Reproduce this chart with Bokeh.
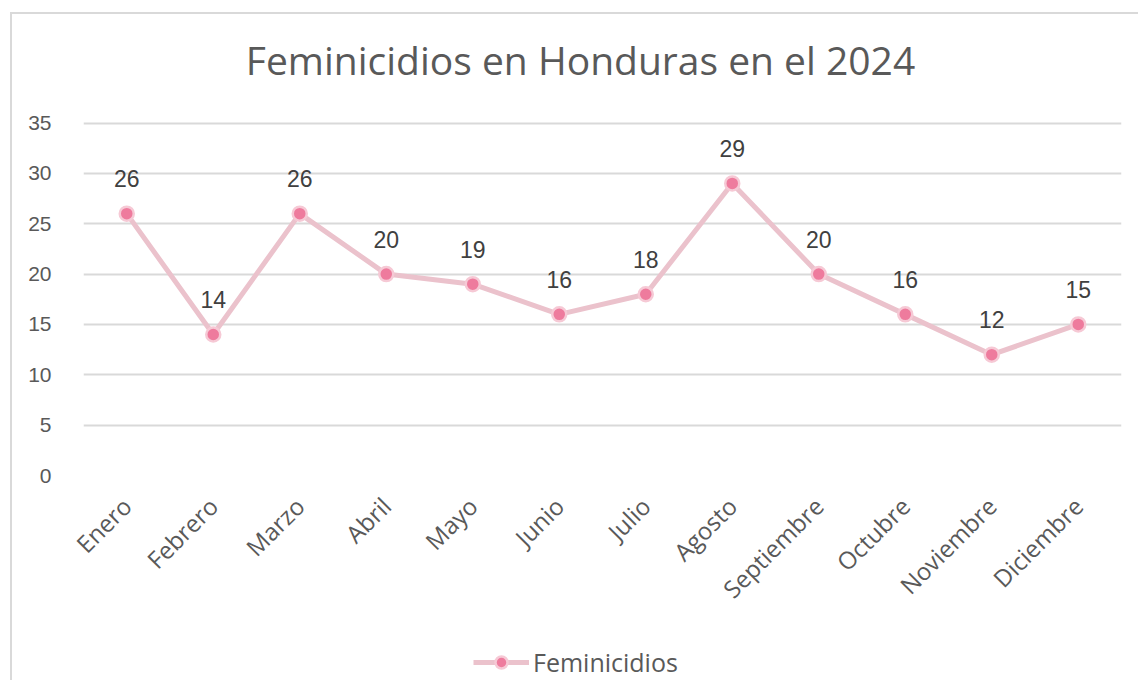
from math import pi
from bokeh.plotting import figure
from bokeh.layouts import column
from bokeh.models import ColumnDataSource, Range1d, Legend, LegendItem, FixedTicker
from bokeh.core.properties import value
from bokeh.embed import file_html
from bokeh.resources import INLINE

months = ["Enero", "Febrero", "Marzo", "Abril", "Mayo", "Junio", "Julio",
          "Agosto", "Septiembre", "Octubre", "Noviembre", "Diciembre"]
feminicidios = [26, 14, 26, 20, 19, 16, 18, 29, 20, 16, 12, 15]
y_ticks = [0, 5, 10, 15, 20, 25, 30, 35]
series_name = "Feminicidios"
title_text = "Feminicidios en Honduras en el 2024"

src = ColumnDataSource(dict(x=months, y=feminicidios,
                            lbl=[str(v) for v in feminicidios]))

W = 1126

# header with the chart title
h = figure(x_range=Range1d(0, 1), y_range=Range1d(0, 1), width=W, height=93,
           output_backend="svg", toolbar_location=None,
           x_axis_type=None, y_axis_type=None,
           min_border_left=0, min_border_right=0, min_border_top=0,
           min_border_bottom=0)
h.grid.grid_line_color = None
h.outline_line_color = None
h.text(x=[0.4788], y=[0.516], text=[title_text], text_align="center",
       text_baseline="middle", text_font=value("Open Sans"),
       text_font_size="39px", text_color="#595959")

p = figure(x_range=months, y_range=Range1d(0, 35.15), width=W, height=533,
           output_backend="svg", toolbar_location=None,
           min_border_left=71, min_border_right=17, min_border_top=14,
           min_border_bottom=165)

p.outline_line_color = None
p.background_fill_color = "white"
p.border_fill_color = "white"

p.xgrid.grid_line_color = None
p.ygrid.grid_line_color = "#d9d9d9"
p.ygrid.grid_line_width = 2
p.yaxis.ticker = FixedTicker(ticks=y_ticks)
p.yaxis.axis_line_color = None
p.yaxis.major_tick_line_color = None
p.yaxis.minor_tick_line_color = None
p.yaxis.major_label_text_font = "Liberation Sans"
p.yaxis.major_label_text_font_size = "21px"
p.yaxis.major_label_text_color = "#595959"
p.yaxis.major_label_standoff = 26

p.xaxis.axis_line_color = None
p.xaxis.major_tick_line_color = None
p.xaxis.major_label_orientation = pi / 4
p.xaxis.major_label_text_font = "Open Sans"
p.xaxis.major_label_text_font_size = "24px"
p.xaxis.major_label_text_color = "#595959"
p.xaxis.major_label_standoff = 20

line_style = dict(line_color="#ebc2cc", line_width=5)
marker_style = dict(size=14, fill_color="#ee7b9d", line_color="#f6c9d5",
                    line_width=2.5)

p.line("x", "y", source=src, **line_style)
p.scatter("x", "y", source=src, **marker_style)
p.text("x", "y", text="lbl", source=src, y_offset=-35,
       text_align="center", text_baseline="middle",
       text_font=value("Liberation Sans"), text_font_size="23px",
       text_color="#404040")

# legend strip below the chart (its renderers lie outside its visible range)
q = figure(x_range=months, y_range=Range1d(100, 101), width=W, height=40,
           output_backend="svg", toolbar_location=None,
           x_axis_type=None, y_axis_type=None,
           min_border_left=0, min_border_right=0, min_border_top=0,
           min_border_bottom=0)
q.grid.grid_line_color = None
q.outline_line_color = None
ln_q = q.line("x", "y", source=src, **line_style)
sc_q = q.scatter("x", "y", source=src, **marker_style)
legend = Legend(items=[LegendItem(label=series_name, renderers=[ln_q, sc_q])],
                orientation="horizontal", location=(390, 1),
                label_text_font="Open Sans", label_text_font_size="25px",
                label_text_color="#595959", border_line_color=None,
                background_fill_alpha=0,
                glyph_width=56, glyph_height=30, label_standoff=4,
                margin=0, padding=4)
q.add_layout(legend, "center")

layout = column(h, p, q, margin=(12, 0, 0, 10),
                styles={"border-left": "2px solid #d9d9d9",
                        "border-top": "2px solid #d9d9d9"})

open("out.html", "w").write(file_html(layout, INLINE))
